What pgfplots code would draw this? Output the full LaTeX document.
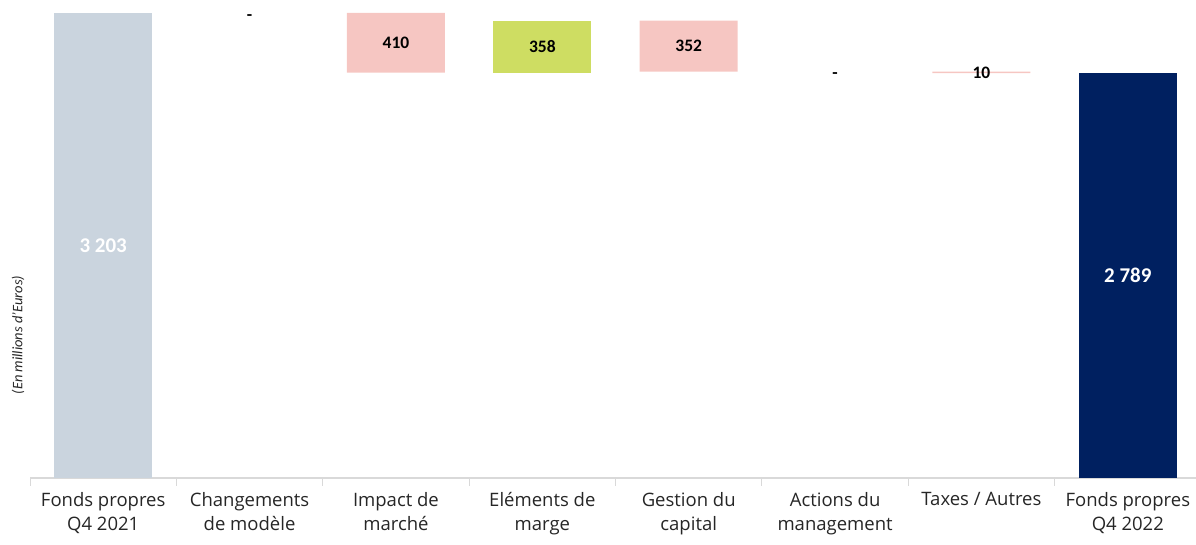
\documentclass[border=0pt]{standalone}
\usepackage{fontspec}
\setmainfont{Open Sans}
\newfontfamily\numfont{Carlito}
\usepackage{pgfplots}
\pgfplotsset{compat=1.18}
\definecolor{cgrey}{RGB}{202,212,222}
\definecolor{cpink}{RGB}{246,198,194}
\definecolor{cgreen}{RGB}{206,221,98}
\definecolor{cnavy}{RGB}{0,32,96}
\definecolor{linegrey}{RGB}{217,217,217}
\begin{document}
\begin{tikzpicture}
\pgfplotsset{
  common/.style={
    at={(0pt,0pt)}, anchor=south west, scale only axis,
    width=1166pt, height=465pt,
    xmin=-0.5, xmax=7.466, ymin=0, ymax=3203,
  }
}
\begin{axis}[common,
  ybar stacked, bar width=98pt,
  axis x line*=bottom, axis y line=none,
  axis line style={draw=linegrey, line width=1.2pt, -},
  xtick={0,1,2,3,4,5,6,7},
  xticklabels={{Fonds propres\\Q4 2021},{Changements\\de modèle},{Impact de\\marché},{Eléments de\\marge},{Gestion du\\capital},{Actions du\\management},{Taxes / Autres},{Fonds propres\\Q4 2022}},
  xticklabel style={align=center, font=\fontsize{18.5}{24}\selectfont, anchor=north, yshift=-11pt, text=black!85},
  major tick length=0pt,
  minor xtick={-0.5,0.5,1.5,2.5,3.5,4.5,5.5,6.5},
  minor tick length=8pt,
  tick align=outside,
  minor tick style={draw=linegrey, line width=1pt},
]
% invisible base
\addplot[draw=none, fill=none] coordinates {(0,0) (1,3203) (2,2793) (3,2793) (4,2799) (5,2799) (6,2789) (7,0)};
% grey start
\addplot[draw=none, fill=cgrey] coordinates {(0,3203) (1,0) (2,0) (3,0) (4,0) (5,0) (6,0) (7,0)};
% pink decreases
\addplot[draw=none, fill=cpink] coordinates {(0,0) (1,0) (2,410) (3,0) (4,352) (5,0) (6,10) (7,0)};
% green increase
\addplot[draw=none, fill=cgreen] coordinates {(0,0) (1,0) (2,0) (3,358) (4,0) (5,0) (6,0) (7,0)};
% navy end
\addplot[draw=none, fill=cnavy] coordinates {(0,0) (1,0) (2,0) (3,0) (4,0) (5,0) (6,0) (7,2789)};
\end{axis}
\begin{axis}[common, hide axis, clip=false]
\addplot[draw=none, mark=none, nodes near coords, point meta=explicit symbolic,
  every node near coord/.append style={anchor=center, text=white, font=\numfont\bfseries\fontsize{21}{21}\selectfont}]
  coordinates {(0,1601.5) [3 203] (7,1394.5) [2 789]};
\addplot[draw=none, mark=none, nodes near coords, point meta=explicit symbolic,
  every node near coord/.append style={anchor=center, text=black, font=\numfont\bfseries\fontsize{17.5}{17.5}\selectfont}]
  coordinates {(1,3172) [-] (2,2998) [410] (3,2972) [358] (4,2975) [352] (5,2775) [-] (6,2792) [10]};
\end{axis}
\node[rotate=90, font=\numfont\itshape\fontsize{14.5}{14.5}\selectfont, text=black!85] at (-12pt,143pt) {(En millions d’Euros)};
\pgfresetboundingbox
\path (-30pt,-67pt) rectangle (1166pt,478pt);
\end{tikzpicture}
\end{document}
